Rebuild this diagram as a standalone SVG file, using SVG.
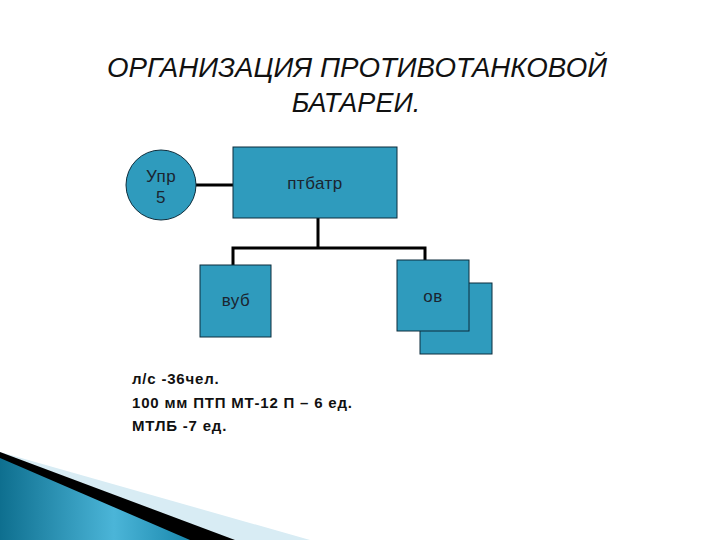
<svg xmlns="http://www.w3.org/2000/svg" width="720" height="540" viewBox="0 0 720 540">
<style>
.box{fill:#2f9bbd;stroke:#0d2d3c;stroke-width:1}
.lbl{font-family:"Liberation Sans",Arial,sans-serif;font-size:17px;fill:#1b2530;text-anchor:middle;letter-spacing:0.5px}
.t{font-family:"Liberation Sans",Arial,sans-serif;font-size:15px;font-weight:bold;fill:#111;letter-spacing:0.8px}
.conn{stroke:#000;stroke-width:3;fill:none}
.title{font-family:"Liberation Sans",sans-serif;font-style:italic;font-size:27px;fill:#111;text-anchor:middle}
</style>
<defs><linearGradient id="g" x1="0" y1="0" x2="1" y2="0"><stop offset="0" stop-color="#0e6f8f"/><stop offset="0.6" stop-color="#4bb5d8"/><stop offset="1" stop-color="#1a88ad"/></linearGradient></defs>
<rect width="720" height="540" fill="#fff"/>
<polygon points="0,452 310,540 0,540" fill="#d8ecf4"/>
<polygon points="0,452 235,540 0,540" fill="#000"/>
<polygon points="0,458 190,540 0,540" fill="url(#g)"/>
<text class="title" x="357" y="77" textLength="500" lengthAdjust="spacingAndGlyphs">ОРГАНИЗАЦИЯ ПРОТИВОТАНКОВОЙ</text>
<text class="title" x="356" y="112">БАТАРЕИ.</text>
<g id="connectors">
<path class="conn" d="M196,185 H233"/>
<path class="conn" d="M318,218 V248 M233,276 V248 H425 V260"/>
</g>
<g id="upr"><circle class="box" cx="161" cy="185" r="35"/><text class="lbl" x="161" y="182">Упр</text><text class="lbl" x="161" y="203">5</text></g>
<g id="ptbatr"><rect class="box" x="233" y="147" width="164" height="71"/><text class="lbl" x="315" y="189">птбатр</text></g>
<g id="vub"><rect class="box" x="200" y="265" width="71" height="72"/><text class="lbl" x="236" y="306">вуб</text></g>
<g id="ov"><rect class="box" x="420" y="283" width="72" height="71"/><rect class="box" x="397" y="260" width="72" height="71"/><text class="lbl" x="433" y="302">ов</text></g>
<g id="info">
<text class="t" x="132" y="384">л/с -36чел.</text>
<text class="t" x="132" y="408">100 мм ПТП МТ-12 П – 6 ед.</text>
<text class="t" x="132" y="431">МТЛБ -7 ед.</text>
</g>
</svg>
